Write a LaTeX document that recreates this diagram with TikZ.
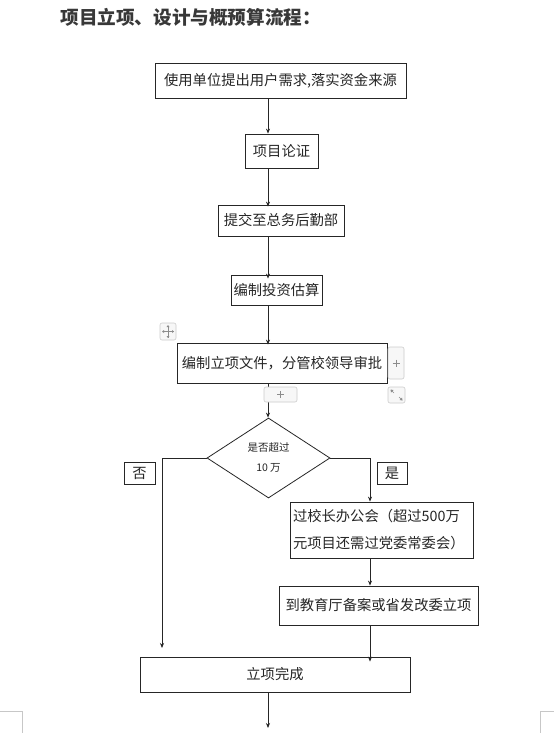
\documentclass[tikz,border=0pt]{standalone}
\usepackage{fontspec}
\setmainfont{Noto Sans CJK SC}
\newfontfamily\cjkfont{Noto Sans CJK SC}
\usetikzlibrary{arrows.meta,shapes.geometric}
\begin{document}
\begin{tikzpicture}[x=1pt,y=-1pt,
  line width=0.8pt,
  box/.style={draw=black!85, fill=white, inner sep=0pt, font=\fontsize{14.3}{16}\selectfont\cjkfont, text=black!85},
  arr/.style={draw=black!85, -{Stealth[length=5pt,width=4pt]}},
  conn/.style={draw=black!85},
  widget/.style={draw=black!20, fill=black!3, rounded corners=2pt, line width=0.6pt},
  wglyph/.style={draw=black!45, line width=0.6pt},
  corner/.style={draw=black!22, line width=0.8pt}]
\useasboundingbox (0,0) rectangle (554,747);
\fill[white] (0,0) rectangle (554,747);

% title
\node[anchor=west, inner sep=0pt, font=\fontsize{18.6}{20}\selectfont\bfseries\cjkfont, text=black!78] (title) at (60,17) {项目立项、设计与概预算流程：};

\coordinate (axis) at (268,0);

% boxes
\node[box, minimum width=251pt, minimum height=35pt] (b1) at (280.5,80.5) {使用单位提出用户需求,落实资金来源};
\node[box, minimum width=73pt, minimum height=34pt] (b2) at (281.5,151) {项目论证};
\node[box, minimum width=126pt, minimum height=31pt] (b3) at (281,220.5) {提交至总务后勤部};
\node[box, minimum width=91pt, minimum height=30pt] (b4) at (276.5,290) {编制投资估算};
\node[box, minimum width=210pt, minimum height=40pt] (b5) at (282,363) {编制立项文件，分管校领导审批};

\node[draw=black!85, fill=white, shape=diamond, inner sep=0pt, minimum width=123pt, minimum height=80pt,
      font=\fontsize{10.5}{20}\selectfont\cjkfont, text=black!85, align=center] (dia) at (268.5,458) {是否超过\\10 万};

\node[box, minimum width=31pt, minimum height=22pt] (no) at (139.5,473) {否};
\node[box, minimum width=30pt, minimum height=22pt] (yes) at (392,473) {是};

\node[box, minimum width=183pt, minimum height=56pt, align=left, text width=177pt,
      font=\fontsize{14.3}{27}\selectfont\cjkfont] (b6) at (381.5,530) {过校长办公会（超过500万\\元项目还需过党委常委会）};
\node[box, minimum width=199pt, minimum height=39pt] (b7) at (378.5,605.5) {到教育厅备案或省发改委立项};
\node[box, minimum width=270pt, minimum height=35pt] (b8) at (275,674.5) {立项完成};

% connectors
\draw[arr] (b1.south -| axis) -- (b2.north -| axis);
\draw[arr] (b2.south -| axis) -- ([yshift=-2pt]b3.north -| axis);
\draw[arr] (b3.south -| axis) -- ([yshift=-4pt]b4.north -| axis);
\draw[arr] (b4.south -| axis) -- ([yshift=-2pt]b5.north -| axis);
\draw[arr] (b5.south -| axis) -- (dia.north -| axis);

\coordinate (leftturn) at (162,458);
\coordinate (leftend) at (162,648);
\coordinate (rightturn) at (370,458);
\coordinate (rax) at (370,0);
\draw[arr] (dia.west) -- (leftturn) -- (leftend);
\draw[arr] (dia.east) -- (rightturn) -- (b6.north -| rax);
\draw[arr] (b6.south -| rax) -- (b7.north -| rax);
\draw[arr] (b7.south -| rax) -- ([yshift=-5pt]b8.north -| rax);
\coordinate (bottomend) at (268,728);
\draw[arr] (b8.south -| axis) -- (bottomend);

% editor widgets
\path[widget] (160,323) rectangle (176,340);
\draw[wglyph] (162.5,331.5) -- (173.5,331.5) (168,325.5) -- (168,337.5);
\fill[black!45] (162,331.5) -- (164,330) -- (164,333) -- cycle
                (174,331.5) -- (172,330) -- (172,333) -- cycle
                (168,325) -- (166.5,327) -- (169.5,327) -- cycle
                (168,338) -- (166.5,336) -- (169.5,336) -- cycle;
\path[widget] (388,347) rectangle (404,379);
\draw[wglyph] (392.5,363) -- (399.5,363) (396,359.5) -- (396,366.5);
\path[widget] (388,387) rectangle (405,403);
\draw[wglyph, line width=0.5pt] (391,390) -- (394,393) (402,400) -- (399,397);
\fill[black!45] (390.5,389.5) -- (393.5,390) -- (391,392.5) -- cycle
                (402.5,400.5) -- (399.5,400) -- (402,397.5) -- cycle;
\path[widget] (264,387) rectangle (297,402);
\draw[wglyph] (277,394.5) -- (284,394.5) (280.5,391) -- (280.5,398);

% page corner marks
\draw[corner] (0,711) -- (22,711) -- (22,733);
\draw[corner] (554,711) -- (540,711) -- (540,733);
\end{tikzpicture}
\end{document}
